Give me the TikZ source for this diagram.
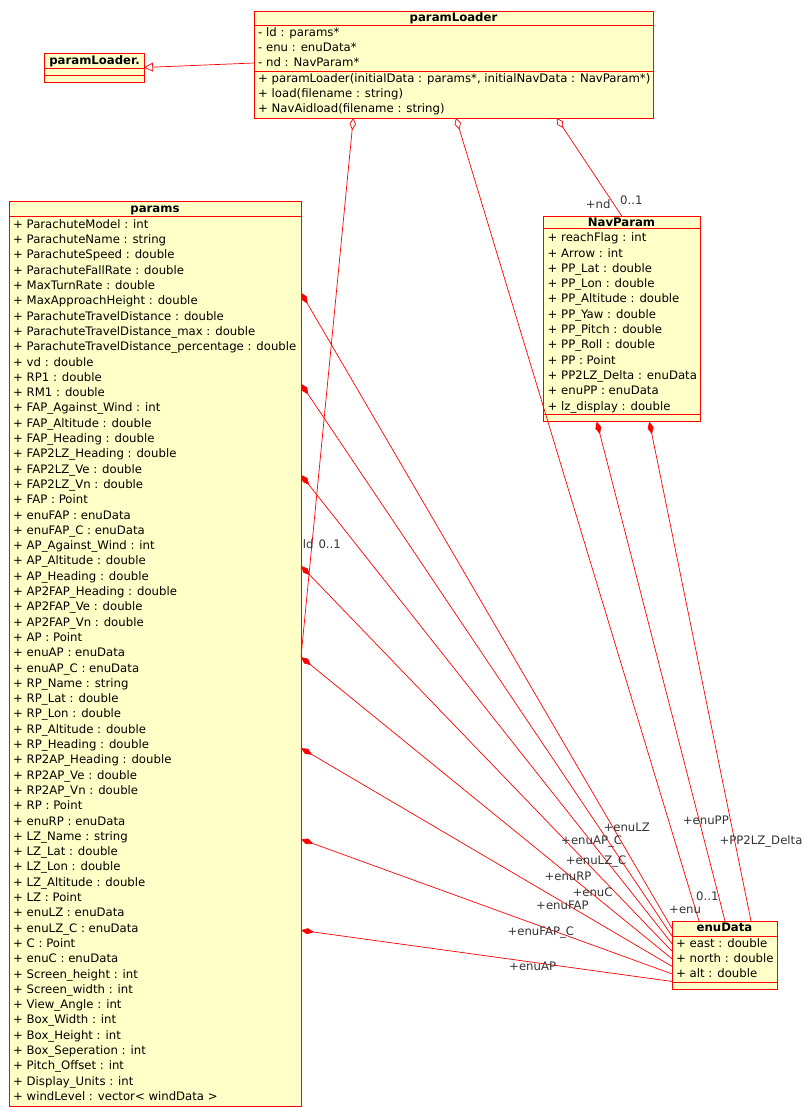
\documentclass[tikz,border=0pt]{standalone}
\usepackage{fontspec}
\setmainfont{DejaVu Sans}
\usetikzlibrary{arrows.meta,calc}
\definecolor{umlfill}{RGB}{255,255,200}
\definecolor{umlline}{RGB}{255,0,0}
\definecolor{rolegray}{RGB}{51,51,51}
\newcommand\umlfont{\fontsize{11.7}{14}\selectfont}
\tikzset{
  cls/.style={draw=umlline,fill=umlfill,line width=0.8pt,inner sep=0pt,outer sep=0pt,anchor=north west},
  cline/.style={draw=umlline,line width=0.8pt},
  ttl/.style={font=\umlfont\bfseries,anchor=base,inner sep=0pt},
  attr/.style={anchor=base west,inner sep=0pt},
  role/.style={anchor=base west,inner sep=0pt,text=rolegray},
  aggr/.style={draw=umlline,line width=0.7pt,{Diamond[open,length=12pt,width=6.5pt]}-},
  compo/.style={draw=umlline,line width=0.7pt,{Diamond[length=13pt,width=6pt,fill=umlline]}-},
  inherit/.style={draw=umlline,line width=0.7pt,-{Triangle[open,length=9pt,width=9pt]}}
}
\begin{document}
\begin{tikzpicture}[x=1pt,y=-1pt,font=\umlfont]
  \useasboundingbox (0,0) rectangle (803,1108);

  % paramLoader
  \node[cls,minimum width=399,minimum height=107] (loader) at (254,11) {};
  \draw[cline] ($(loader.north west)+(0,14)$) -- ($(loader.north east)+(0,14)$);
  \draw[cline] ($(loader.north west)+(0,60)$) -- ($(loader.north east)+(0,60)$);
  \node[ttl] (loaderT) at (453.5,21.3) {paramLoader};
  \foreach \t [count=\i] in {- ld : params*,- enu : enuData*,- nd : NavParam*}
    \node[attr] (loaderA\i) at (258,21.6+15.1*\i) {\t};
  \foreach \t [count=\i] in {{+ paramLoader(initialData : params*, initialNavData : NavParam*)},+ load(filename : string),+ NavAidload(filename : string)}
    \node[attr] (loaderM\i) at (258,67.6+15.1*\i) {\t};

  % paramLoader.
  \node[cls,minimum width=100,minimum height=29] (base) at (44,53) {};
  \draw[cline] ($(base.north west)+(0,15.3)$) -- ($(base.north east)+(0,15.3)$);
  \draw[cline] ($(base.north west)+(0,22)$) -- ($(base.north east)+(0,22)$);
  \node[ttl] (baseT) at (94.5,65) {paramLoader.};

  % params
  \node[cls,minimum width=292,minimum height=905] (params) at (9,201.5) {};
  \draw[cline] ($(params.north west)+(0,15)$) -- ($(params.north east)+(0,15)$);
  \node[ttl] (paramsT) at (155,212.3) {params};
  \foreach \t [count=\i] in {+ ParachuteModel : int,+ ParachuteName : string,+ ParachuteSpeed : double,
    + ParachuteFallRate : double,+ MaxTurnRate : double,+ MaxApproachHeight : double,
    + ParachuteTravelDistance : double,+ ParachuteTravelDistance\_max : double,
    + ParachuteTravelDistance\_percentage : double,+ vd : double,+ RP1 : double,+ RM1 : double,
    + FAP\_Against\_Wind : int,+ FAP\_Altitude : double,+ FAP\_Heading : double,
    + FAP2LZ\_Heading : double,+ FAP2LZ\_Ve : double,+ FAP2LZ\_Vn : double,+ FAP : Point,
    + enuFAP : enuData,+ enuFAP\_C : enuData,+ AP\_Against\_Wind : int,+ AP\_Altitude : double,
    + AP\_Heading : double,+ AP2FAP\_Heading : double,+ AP2FAP\_Ve : double,+ AP2FAP\_Vn : double,
    + AP : Point,+ enuAP : enuData,+ enuAP\_C : enuData,+ RP\_Name : string,+ RP\_Lat : double,
    + RP\_Lon : double,+ RP\_Altitude : double,+ RP\_Heading : double,+ RP2AP\_Heading : double,
    + RP2AP\_Ve : double,+ RP2AP\_Vn : double,+ RP : Point,+ enuRP : enuData,+ LZ\_Name : string,
    + LZ\_Lat : double,+ LZ\_Lon : double,+ LZ\_Altitude : double,+ LZ : Point,+ enuLZ : enuData,
    + enuLZ\_C : enuData,+ C : Point,+ enuC : enuData,+ Screen\_height : int,+ Screen\_width : int,
    + View\_Angle : int,+ Box\_Width : int,+ Box\_Height : int,+ Box\_Seperation : int,
    + Pitch\_Offset : int,+ Display\_Units : int,+ windLevel : vector< windData >}
    \node[attr] (paramsA\i) at (13,213+15.3*\i) {\t};

  % NavParam
  \node[cls,minimum width=157,minimum height=205.5] (navparam) at (543,216) {};
  \draw[cline] ($(navparam.north west)+(0,12.5)$) -- ($(navparam.north east)+(0,12.5)$);
  \draw[cline] ($(navparam.north west)+(0,198.5)$) -- ($(navparam.north east)+(0,198.5)$);
  \node[ttl] (navparamT) at (621.5,226.7) {NavParam};
  \foreach \t [count=\i] in {+ reachFlag : int,+ Arrow : int,+ PP\_Lat : double,+ PP\_Lon : double,
    + PP\_Altitude : double,+ PP\_Yaw : double,+ PP\_Pitch : double,+ PP\_Roll : double,
    + PP : Point,+ PP2LZ\_Delta : enuData,+ enuPP : enuData,+ lz\_display : double}
    \node[attr] (navparamA\i) at (547.5,226.4+15.3*\i) {\t};

  % enuData
  \node[cls,minimum width=105,minimum height=68] (enudata) at (672,921) {};
  \draw[cline] ($(enudata.north west)+(0,15.5)$) -- ($(enudata.north east)+(0,15.5)$);
  \draw[cline] ($(enudata.north west)+(0,61.5)$) -- ($(enudata.north east)+(0,61.5)$);
  \node[ttl] (enudataT) at (724.5,931.7) {enuData};
  \foreach \t [count=\i] in {+ east : double,+ north : double,+ alt : double}
    \node[attr] (enudataA\i) at (676,932+15*\i) {\t};

  % generalisation
  \coordinate (genA) at ($(loader.north west)+(0,52)$);
  \draw[inherit] (genA) -- (base.east);

  % aggregations from paramLoader
  \coordinate (ldA) at ($(loader.south west)+(99.3,0)$);
  \coordinate (ldB) at ($(params.north east)+(0,455.5)$);
  \coordinate (enuA) at ($(loader.south west)+(202,0)$);
  \coordinate (enuB) at ($(enudata.north west)+(27,0)$);
  \coordinate (ndA) at ($(loader.south west)+(302.7,0)$);
  \coordinate (ndB) at ($(navparam.north west)+(78.7,0)$);
  \draw[aggr] (ldA) -- (ldB);
  \draw[aggr] (enuA) -- (enuB);
  \draw[aggr] (ndA) -- (ndB);
  \node[role] (ldR) at (302.7,548.3) {ld};
  \node[role] (ldM) at (318.3,548.3) {0..1};
  \node[role] (enuR) at (669,913.3) {+enu};
  \node[role] (enuM) at (696,900) {0..1};
  \node[role] (ndR) at (585.7,208) {+nd};
  \node[role] (ndM) at (620,204.7) {0..1};

  % compositions params -> enuData
  \foreach \f [count=\k] in {LZ,APC,LZC,RP,C,FAP,FAPC,AP}{
    \coordinate (p\f) at ($(params.north east)+(0,91.1*\k)$);
    \coordinate (e\f) at ($(enudata.north west)+(0,68*\k/9)$);
    \draw[compo] (p\f) -- (e\f);
  }
  \node[role] (rLZ) at (603.3,831.3) {+enuLZ};
  \node[role] (rAPC) at (561,844) {+enuAP\_C};
  \node[role] (rLZC) at (565.7,864.7) {+enuLZ\_C};
  \node[role] (rRP) at (544.3,880.7) {+enuRP};
  \node[role] (rC) at (572.3,896.3) {+enuC};
  \node[role] (rFAP) at (536,909) {+enuFAP};
  \node[role] (rFAPC) at (507.3,935.7) {+enuFAP\_C};
  \node[role] (rAP) at (509,970) {+enuAP};

  % compositions NavParam -> enuData
  \coordinate (ppA) at ($(navparam.south west)+(53.7,0)$);
  \coordinate (ppB) at ($(enudata.north west)+(53,0)$);
  \coordinate (dlA) at ($(navparam.south west)+(106.3,0)$);
  \coordinate (dlB) at ($(enudata.north west)+(79,0)$);
  \draw[compo] (ppA) -- (ppB);
  \draw[compo] (dlA) -- (dlB);
  \node[role] (rPP) at (682.7,824) {+enuPP};
  \node[role] (rDL) at (719.3,844) {+PP2LZ\_Delta};
\end{tikzpicture}
\end{document}
